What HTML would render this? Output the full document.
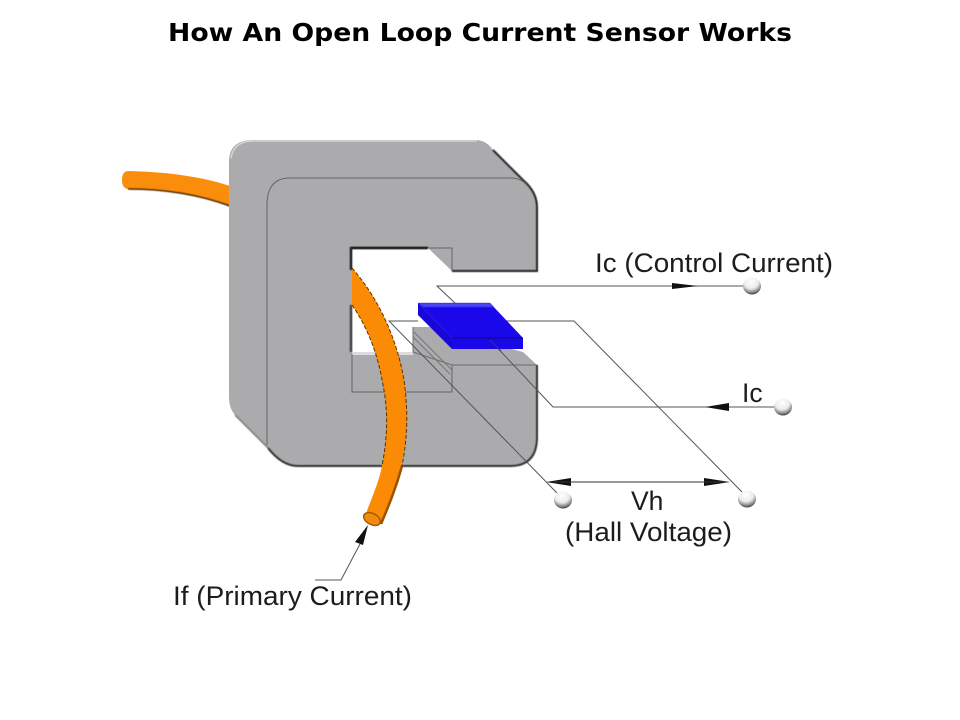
<!DOCTYPE html>
<html>
<head>
<meta charset="utf-8">
<style>
html,body{margin:0;padding:0;background:#fff;width:960px;height:720px;overflow:hidden}
svg{display:block}
text{font-family:"Liberation Sans",Arial,sans-serif;fill:#1c1c1c}
</style>
</head>
<body>
<svg width="960" height="720" viewBox="0 0 960 720" xmlns="http://www.w3.org/2000/svg">
<defs>
<radialGradient id="ball" cx="45%" cy="25%" r="80%">
<stop offset="0" stop-color="#ffffff"/><stop offset=".5" stop-color="#ececec"/><stop offset=".78" stop-color="#888"/><stop offset="1" stop-color="#222"/>
</radialGradient>
<filter id="b2" filterUnits="userSpaceOnUse" x="0" y="0" width="960" height="720"><feGaussianBlur stdDeviation="0.6"/></filter>
</defs>

<text x="480" y="41" text-anchor="middle" textLength="624" lengthAdjust="spacingAndGlyphs" style="font-family:'DejaVu Sans','Liberation Sans',sans-serif;font-weight:bold;font-size:25px;fill:#000">How An Open Loop Current Sensor Works</text>

<!-- top-left wire -->
<path d="M129 171C165 172 200 176 230 186L230 206C200 195 165 189 129 189Q122 189 122 180Q122 171 129 171Z" fill="#fb8d0c"/>
<path d="M128 189C165 189 200 195 230 206" fill="none" stroke="#4a2a00" stroke-width="1.500" filter="url(#b2)"/>

<!-- core body -->
<path d="M229 162Q229 140 253 140H477Q487 141 493 150L523 180Q537 192 537 208V271H452L428 248H352V352H413V327H430L523 352L537 365V437Q537 466 510 466H298Q282 466 268 448L235 415Q229 408 229 398Z" fill="#ababad"/>

<!-- top/left highlights -->
<path d="M231 158Q234 141 253 141H477" fill="none" stroke="#d6d6d6" stroke-width="1.500"/>
<path d="M352 353.500H413" stroke="#dcdcdc" stroke-width="3" fill="none"/>

<!-- shadows -->
<path d="M351 248H428" stroke="#111" stroke-width="2.500" fill="none" filter="url(#b2)"/>
<path d="M351 247V270" stroke="#222" stroke-width="2.500" fill="none" filter="url(#b2)"/>
<path d="M351 305V352" stroke="#444" stroke-width="2.500" fill="none" filter="url(#b2)"/>
<path d="M452 271H537V207Q537 192 523 180L493 150" fill="none" stroke="#222" stroke-width="2" filter="url(#b2)"/>
<path d="M537 365V437Q537 466 510 466H298Q282 466 268 448" fill="none" stroke="#333" stroke-width="2" filter="url(#b2)"/>
<path d="M268 448L235 415" fill="none" stroke="#777" stroke-width="1.500" filter="url(#b2)"/>
<path d="M428 248H452V271" fill="none" stroke="#666" stroke-width="1"/>

<!-- lower jaw -->
<path d="M413 327V352L452 365H537" fill="none" stroke="#6e6e6e" stroke-width="1"/>
<path d="M352 354V392H452V365" fill="none" stroke="#666" stroke-width="1"/>
<path d="M414 332L452 370M413 337L450 374" fill="none" stroke="#777" stroke-width="1"/>

<!-- inner outline -->
<path d="M267 445V205Q267 178 290 178H513Q522 179 527 185" fill="none" stroke="#666" stroke-width="1"/>

<!-- conductors -->
<g fill="none" stroke="#555" stroke-width="1">
<path d="M456 304L437 286H745"/>
<path d="M418 321H389L557 493"/>
<path d="M505 321H574L742 492"/>
<path d="M490 340L553 407H776"/>
</g>

<!-- blue hall plate -->
<polygon points="418,303 490,303 523,338 452,338" fill="#1a08ea"/>
<polygon points="418,303 490,303 494,307 423,307" fill="#4a44f0" filter="url(#b2)"/>
<polygon points="418,303 452,338 452,349 418,315" fill="#1808d8"/>
<polygon points="452,338 523,338 523,349 452,349" fill="#1a08e6"/>
<path d="M452 338H523" stroke="#0b0690" stroke-width="1" fill="none"/>
<path d="M490 340L501 351" stroke="#30309a" stroke-width="1" fill="none"/>

<!-- main wire -->
<path d="M352 268C380 300 397 340 404 380C408 410 408 435 401 466C396 488 389 505 381 524L365 516C372 497 379 482 382 466C388 435 388 410 383 385C378 355 368 328 352 305Z" fill="#fb8a05"/>
<path d="M352 268C380 300 397 340 404 380C408 410 408 435 402 466" fill="none" stroke="#5a3300" stroke-width="1" stroke-dasharray="4 2"/>
<path d="M352 305C368 328 378 355 383 385C388 410 388 435 382 466" fill="none" stroke="#5a3300" stroke-width="1" stroke-dasharray="4 2"/>
<path d="M402 466C396 488 389 505 381 524" fill="none" stroke="#9a5200" stroke-width="2.500"/>
<ellipse cx="372" cy="519" rx="9" ry="5.500" transform="rotate(28 372 519)" fill="#f08a10" stroke="#a85a00" stroke-width="1.500"/>

<!-- arrowheads -->
<g fill="#111">
<polygon points="672,283 698,286 672,289"/>
<polygon points="729,403 729,411 705,407"/>
<polygon points="546,482 571,478 571,486"/>
<polygon points="704,478 730,482 704,486"/>
<polygon points="368,525 355,542 363,545"/>
</g>
<path d="M553 482H727" stroke="#333" stroke-width="1" fill="none"/>
<path d="M315 580H341L360 544" stroke="#555" stroke-width="1" fill="none"/>

<!-- terminal balls -->
<ellipse cx="752" cy="286" rx="9" ry="8.500" fill="url(#ball)"/>
<ellipse cx="783" cy="407" rx="9" ry="8.500" fill="url(#ball)"/>
<ellipse cx="563" cy="500" rx="9" ry="8.500" fill="url(#ball)"/>
<ellipse cx="747" cy="499" rx="9" ry="8.500" fill="url(#ball)"/>

<!-- labels -->
<text x="595" y="272" font-size="26.500" textLength="238" lengthAdjust="spacingAndGlyphs">Ic (Control Current)</text>
<text x="742" y="402" font-size="26.500">Ic</text>
<text x="631" y="510" font-size="26.500">Vh</text>
<text x="565" y="541" font-size="26.500" textLength="167" lengthAdjust="spacingAndGlyphs">(Hall Voltage)</text>
<text x="173" y="605" font-size="26.500" textLength="239" lengthAdjust="spacingAndGlyphs">If (Primary Current)</text>
</svg>
</body>
</html>
